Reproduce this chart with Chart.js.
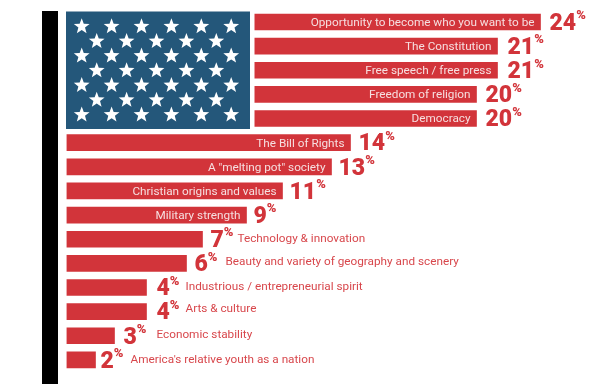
<!DOCTYPE html>
<html>
<head>
<meta charset="utf-8">
<style>
  html, body { margin: 0; padding: 0; background: #fff; }
  canvas { display: block; }
</style>
<script src="https://cdn.jsdelivr.net/npm/chart.js@4"></script>
</head>
<body>
<canvas id="chart" width="604" height="384"></canvas>
<script>
const categories = [
  "Opportunity to become who you want to be",
  "The Constitution",
  "Free speech / free press",
  "Freedom of religion",
  "Democracy",
  "The Bill of Rights",
  'A "melting pot" society',
  "Christian origins and values",
  "Military strength",
  "Technology & innovation",
  "Beauty and variety of geography and scenery",
  "Industrious / entrepreneurial spirit",
  "Arts & culture",
  "Economic stability",
  "America's relative youth as a nation"
];
// printed percentages
const percentLabels = [24, 21, 21, 20, 20, 14, 13, 11, 9, 7, 6, 4, 4, 3, 2];
// bar lengths as drawn in the picture (they do not follow the printed numbers exactly)
const barLengths = [23.7, 21.55, 21.55, 20.5, 20.5, 14.2, 13.25, 10.8, 9, 6.8, 6, 4, 4, 2.4, 1.45];
const labelsInsideBar = 9;

const RED = "#d2343a";
const BLUE = "#24577a";

// hand placed text in the original, so the gaps differ per row
const numberGap = [9, 10, 10, 9, 9, 8, 7, 7, 7, 8, 8, 10, 10, 9, 5];
const labelGap = [5, 5, 5, 5, 5, 5, 5, 5, 5, 4, 8, 6, 6, 10, 7];
const labelShift = [0, 0, 0, 0, 0, 0, 0, 0, 0, 0, -1, 0, -3, -1, 0];

function star(ctx, cx, cy, r) {
  ctx.beginPath();
  for (let i = 0; i < 10; i++) {
    const rad = i % 2 ? r * 0.42 : r;
    const a = -Math.PI / 2 + i * Math.PI / 5;
    ctx.lineTo(cx + rad * Math.cos(a), cy + rad * Math.sin(a));
  }
  ctx.closePath();
  ctx.fill();
}

// black spine on the left and the flag over the top five bars
const flagPlugin = {
  id: "flag",
  afterDatasetsDraw(chart) {
    const ctx = chart.ctx;
    const x0 = chart.scales.x.getPixelForValue(0);
    ctx.save();
    ctx.fillStyle = "#000";
    ctx.fillRect(42, 11, 16, 373);
    ctx.fillStyle = "#fff";
    ctx.fillRect(x0 - 1, 8, 189, 124);
    ctx.fillStyle = BLUE;
    ctx.fillRect(x0 - 0.5, 11.5, 184, 117.5);
    ctx.fillStyle = "#fff";
    for (let row = 0; row < 7; row++) {
      const odd = row % 2 === 1;
      const n = odd ? 5 : 6;
      for (let c = 0; c < n; c++) {
        star(ctx, 81.7 + (odd ? 15 : 0) + c * 29.9, 26.5 + row * 14.7, 8.3);
      }
    }
    ctx.restore();
  }
};

// percent figures and category labels next to or inside the bars
const labelPlugin = {
  id: "barLabels",
  afterDatasetsDraw(chart) {
    const ctx = chart.ctx;
    const bars = chart.getDatasetMeta(0).data;
    ctx.save();
    ctx.textBaseline = "middle";
    bars.forEach((bar, i) => {
      const y = bar.y;
      let x = bar.x + numberGap[i];
      const num = String(percentLabels[i]);

      ctx.fillStyle = RED;
      ctx.textAlign = "left";
      ctx.font = "900 23px Roboto";
      ctx.fillText(num, x, y + 2);
      x += ctx.measureText(num).width;

      ctx.font = "900 13px Roboto";
      ctx.fillText("%", x, y - 6);
      x += ctx.measureText("%").width + labelGap[i];

      ctx.font = "400 11.75px Roboto";
      if (i < labelsInsideBar) {
        ctx.fillStyle = "#f6dfe0";
        ctx.textAlign = "right";
        ctx.fillText(categories[i], bar.x - 6, y + 1);
      } else {
        ctx.fillStyle = "#d8474c";
        ctx.fillText(categories[i], x, y + labelShift[i]);
      }
    });
    ctx.restore();
  }
};

new Chart(document.getElementById("chart"), {
  type: "bar",
  data: {
    labels: categories,
    datasets: [{
      data: barLengths,
      backgroundColor: RED,
      barThickness: 16
    }]
  },
  options: {
    indexAxis: "y",
    responsive: false,
    animation: false,
    layout: { padding: { left: 66.5, top: 9.9, bottom: 12 } },
    scales: {
      x: { display: false, min: 0, max: 26.875 },
      y: { display: false }
    },
    plugins: { legend: { display: false }, tooltip: { enabled: false } }
  },
  plugins: [labelPlugin, flagPlugin]
});
</script>
</body>
</html>
